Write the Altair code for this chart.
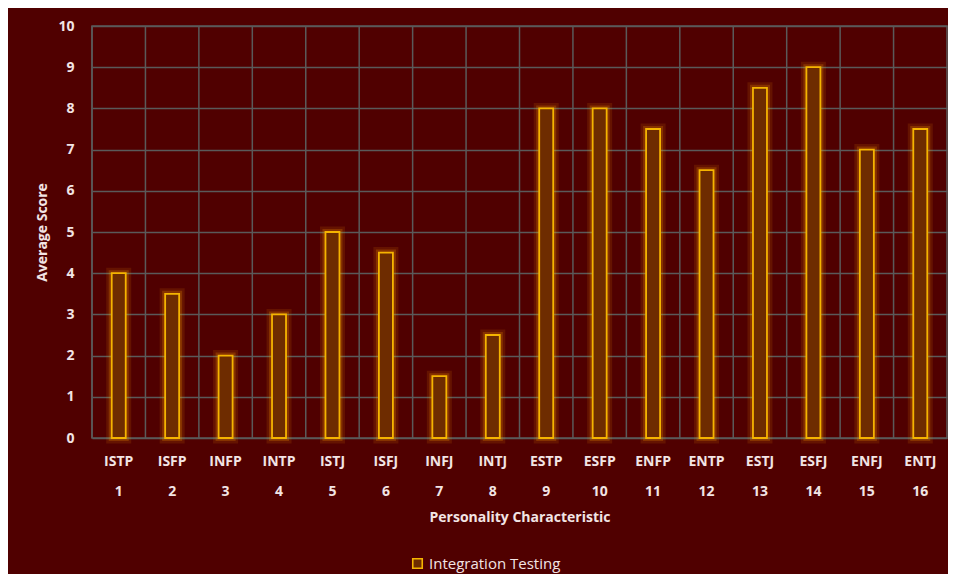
import altair as alt
import pandas as pd

types = ["ISTP", "ISFP", "INFP", "INTP", "ISTJ", "ISFJ", "INFJ", "INTJ",
         "ESTP", "ESFP", "ENFP", "ENTP", "ESTJ", "ESFJ", "ENFJ", "ENTJ"]
numbers = list(range(1, 17))
scores = [4, 3.5, 2, 3, 5, 4.5, 1.5, 2.5, 8, 8, 7.5, 6.5, 8.5, 9, 7, 7.5]
series_name = "Integration Testing"

df = pd.DataFrame({
    "key": [f"{t}|{n}" for t, n in zip(types, numbers)],
    "score": scores,
    "series": [series_name] * len(types),
})

BG = "#500000"
GRID = "#5a5a5a"
TXT = "#f2e4e4"
GOLD = "#f5b400"
FONT = "Open Sans"

xsort = list(df["key"])
xscale = alt.Scale(paddingInner=0, paddingOuter=0)
yscale = alt.Scale(domain=[0, 10])

xaxis = alt.Axis(labelAngle=0, labelExpr="split(datum.label, '|')",
                 labelLineHeight=30, labelPadding=16, ticks=False,
                 domain=False, grid=False, labelFontSize=14,
                 labelFontWeight="bold", labelColor=TXT,
                 titleFontSize=14, titleFontWeight="bold",
                 titleColor=TXT, titlePadding=12, labelFont=FONT,
                 titleFont=FONT)
yaxis = alt.Axis(values=list(range(0, 11)), grid=True, gridColor=GRID,
                 gridWidth=1.5, ticks=False, domain=False,
                 labelFontSize=14, labelFontWeight="bold",
                 labelColor=TXT, labelPadding=18, titleFontSize=14,
                 titleFontWeight="bold", titleColor=TXT,
                 titlePadding=8, labelFont=FONT, titleFont=FONT)

X = alt.X("key:N", sort=xsort, scale=xscale,
          title="Personality Characteristic", axis=xaxis)
Y = alt.Y("score:Q", scale=yscale, title="Average Score", axis=yaxis)

base = alt.Chart(df)

vgrid = base.mark_rule(color=GRID, strokeWidth=1.5).encode(
    x=alt.X("key:N", sort=xsort, scale=xscale, bandPosition=0,
            title="Personality Characteristic", axis=xaxis),
)

glow1 = base.mark_bar(size=14, fill="#ff9a00", fillOpacity=0.0,
                      stroke="#ff9a00", strokeWidth=11, strokeOpacity=0.12).encode(
    x=X, y=Y,
)
glow2 = base.mark_bar(size=14, fill="#ff9a00", fillOpacity=0.0,
                      stroke="#ffa500", strokeWidth=6, strokeOpacity=0.22).encode(
    x=X, y=Y,
)

bars = base.mark_bar(size=14, fill="#6e2c00", strokeWidth=1.8).encode(
    x=X, y=Y,
    stroke=alt.Stroke("series:N", scale=alt.Scale(range=[GOLD]),
                      legend=alt.Legend(title=None, orient="none",
                                        legendX=318, legendY=530,
                                        symbolType="square", symbolSize=90,
                                        symbolFillColor="transparent",
                                        symbolStrokeWidth=1.6,
                                        labelColor=TXT, labelFontSize=15,
                                        labelFont=FONT, padding=0)),
)

chart = alt.layer(vgrid, glow1, glow2, bars).properties(
    width=855, height=412,
    background=BG,
    padding={"left": 84, "top": 18, "right": 1, "bottom": 136},
    autosize=alt.AutoSizeParams(type="none"),
).configure_view(stroke=GRID, strokeWidth=1.5)

chart.save("out.html", embed_options={"renderer": "svg", "actions": False})
